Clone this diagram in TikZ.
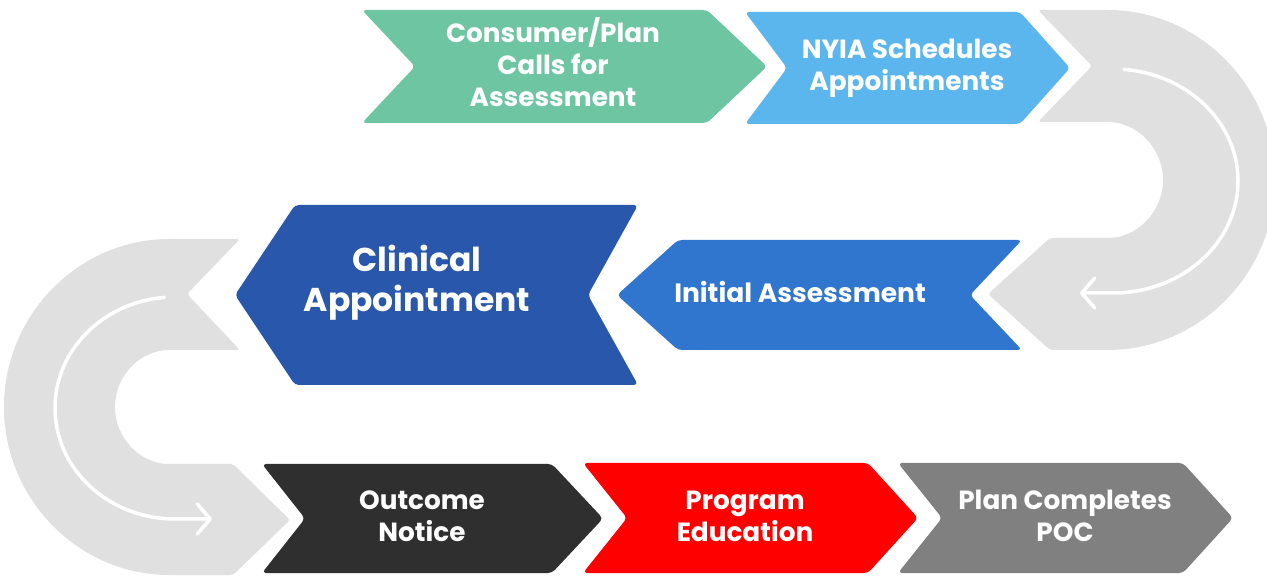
\documentclass[tikz,border=0pt]{standalone}
\usepackage{fontspec}
\setmainfont{Poppins}
\usetikzlibrary{arrows.meta}

\definecolor{cGreen}{HTML}{6EC5A1}
\definecolor{cSky}{HTML}{5BB6EE}
\definecolor{cMid}{HTML}{3176CE}
\definecolor{cDeep}{HTML}{2857AB}
\definecolor{cInk}{HTML}{2F2F2F}
\definecolor{cRed}{HTML}{FF0000}
\definecolor{cGrey}{HTML}{808080}
\definecolor{cLoop}{HTML}{E0E0E0}

\tikzset{
    loopband/.style={fill=cLoop,rounded corners=3pt},
    looparrow/.style={draw=white,line width=3.5pt,line cap=round,
        -{Straight Barb[length=13pt,width=30pt,round]}},
    steptext/.style={text=white,align=center,inner sep=0pt}
}

\begin{document}
\begin{tikzpicture}[x=1pt,y=1pt]
\useasboundingbox (0,0) rectangle (1267,576);

\coordinate (cRCtr) at (1113,395);
\coordinate (cLCtr) at (175,168);

%右邊的灰色回轉箭頭
\fill[loopband] (1038,566) -- (1105,566)
    arc[start angle=90,end angle=-90,radius=170pt] -- (1050,226)
    -- (988,282) -- (1050,338) -- (1105,338)
    arc[start angle=-90,end angle=90,radius=58pt] -- (1038,454)
    -- (1092,510) -- cycle;
\draw[looparrow] ([shift={(85:125 and 112)}]cRCtr)
    arc[start angle=85,end angle=-90,x radius=125pt,y radius=112pt] -- (1080,283);

%左邊的灰色回轉箭頭
\fill[loopband] (240,337) -- (172,337)
    arc[start angle=90,end angle=270,radius=168pt] -- (233,1)
    -- (290,56) -- (233,112) -- (172,112)
    arc[start angle=270,end angle=90,radius=57pt] -- (240,226)
    -- (187,282) -- cycle;
\draw[looparrow] ([shift={(95:120 and 111)}]cLCtr)
    arc[start angle=95,end angle=270,x radius=120pt,y radius=111pt] -- (212,57);

%%各步驟: 名稱/文字位置/左緣/凹口/右緣/尖端/上/下/顏色/字級/文字
\foreach \m/\x/\y/\l/\n/\r/\p/\t/\b/\c/\z/\k/\s in
{nCall/553/514/362/415/707/767/566/453/cGreen/26.3/32/{Consumer/Plan\\Calls for\\Assessment},
    nSched/907/508/745/787/1020/1070/564/452/cSky/26.3/32/{NYIA Schedules\\Appointments},
    nInit/800/284/1022/970/678/617/336/226/cMid/26.5/28/{Initial Assessment},
    nClin/417/293/638/588/295/235/371/191/cDeep/33/40/{Clinical\\Appointment},
    nOutc/422/60/262/305/552/603/112/3/cInk/26.3/32/{Outcome\\Notice},
    nProg/745/60/583/627/868/918/113/3/cRed/26.3/32/{Program\\Education},
    nPlan/1065/60/898/942/1183/1233/113/3/cGrey/26.3/32/{Plan Completes\\POC}}
{
    \fill[\c,rounded corners=4pt] (\l,\t) -- (\r,\t) -- (\p,{(\t+\b)/2})
        -- (\r,\b) -- (\l,\b) -- (\n,{(\t+\b)/2}) -- cycle;
    \node[steptext,font=\fontsize{\z}{\k}\selectfont\bfseries] (\m) at (\x,\y) {\s};
};

\end{tikzpicture}
\end{document}
